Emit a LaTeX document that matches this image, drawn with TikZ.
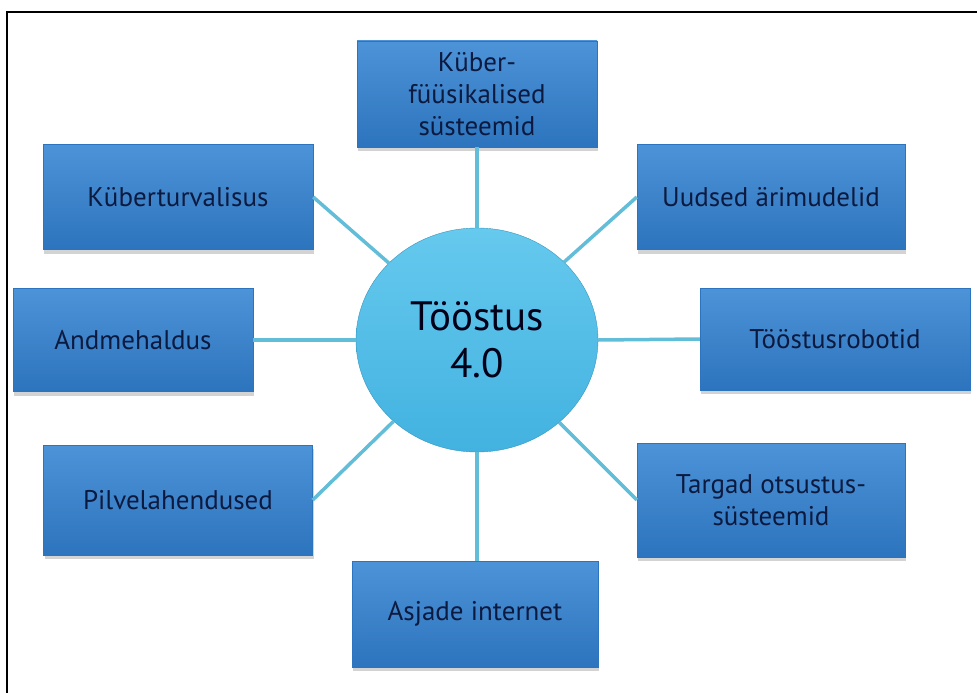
\documentclass[tikz,border=0pt]{standalone}
\usepackage{fontspec}
\setmainfont{PT Sans}
\usetikzlibrary{shapes.geometric,shadows}
\definecolor{boxtop}{HTML}{4D93D8}
\definecolor{boxbot}{HTML}{2C74BD}
\definecolor{hubtop}{HTML}{66C9EE}
\definecolor{hubbot}{HTML}{42B2E0}
\definecolor{linkblue}{HTML}{62BDD9}
\definecolor{boxtext}{HTML}{0C1A40}
\tikzset{
  topic/.style={rectangle, top color=boxtop, bottom color=boxbot, draw=boxbot, line width=0.4pt,
    text=boxtext, font=\fontsize{27}{32}\selectfont, align=center, inner sep=0pt,
    drop shadow={shadow xshift=1pt, shadow yshift=-4pt, opacity=0.35}},
  link/.style={draw=linkblue, line width=3.5pt}
}
\begin{document}
\begin{tikzpicture}[x=1pt, y=-1pt]
  \useasboundingbox (0,0) rectangle (977,693);
  \draw[line width=2pt] (7,693) -- (7,12) -- (977,12);

  \node[ellipse, top color=hubtop, bottom color=hubbot, draw=hubbot!85!black, line width=0.4pt,
        minimum width=242pt, minimum height=224pt, inner sep=0pt, align=center,
        font=\fontsize{41}{47}\selectfont, text=black!90!blue] (t40) at (477,340) {Tööstus\\4.0};

  \node[topic, minimum width=240pt, minimum height=106pt] (kf) at (477,94) {Küber-\\füüsikalised\\süsteemid};
  \node[topic, minimum width=270pt, minimum height=105pt] (kt) at (178,197) {Küberturvalisus};
  \node[topic, minimum width=268pt, minimum height=105pt] (um) at (771,197) {Uudsed ärimudelid};
  \node[topic, minimum width=240pt, minimum height=103pt] (ah) at (133,340) {Andmehaldus};
  \node[topic, minimum width=270pt, minimum height=102pt] (tr) at (835,339) {Tööstusrobotid};
  \node[topic, minimum width=269pt, minimum height=110pt] (pv) at (178,500) {Pilvelahendused};
  \node[topic, minimum width=268pt, minimum height=114pt] (to) at (771,500) {Targad otsustus-\\süsteemid};
  \node[topic, minimum width=246pt, minimum height=106pt] (ai) at (475,614) {Asjade internet};

  \draw[link] (kf.south) -- (t40.north);
  \draw[link] (kt.east) -- (t40);
  \draw[link] (um.west) -- (t40);
  \draw[link] (ah.east) -- (t40.west);
  \draw[link] (tr.west) -- (t40.east);
  \draw[link] (pv.east) -- (t40);
  \draw[link] (to.west) -- (t40);
  \draw[link] (t40.south) -- (ai.north -| t40.south);
\end{tikzpicture}
\end{document}
